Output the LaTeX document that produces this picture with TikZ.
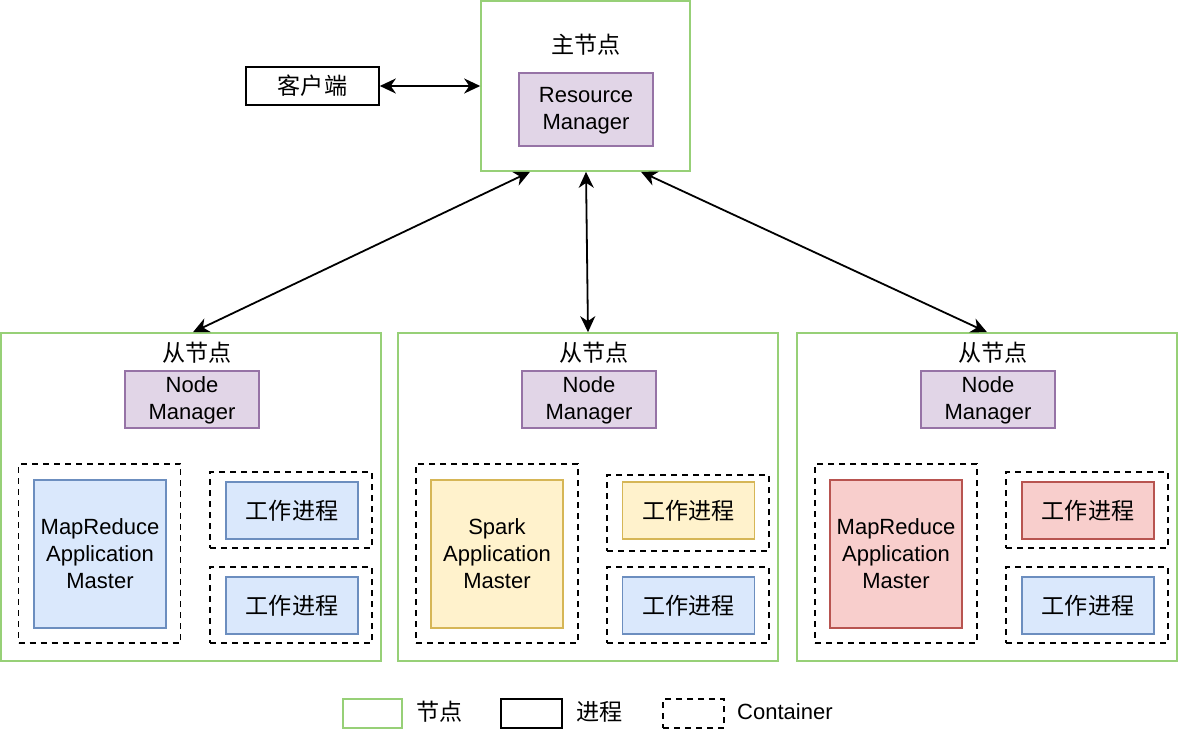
\documentclass[tikz,border=0pt]{standalone}
\usepackage{fontspec}
\setmainfont{Liberation Sans}
\newfontfamily\cjk[Scale=1.05]{Noto Sans CJK SC}
\usetikzlibrary{arrows.meta}
\definecolor{hostgreen}{HTML}{97D077}
\definecolor{purpleL}{HTML}{E1D5E7}
\definecolor{purpleD}{HTML}{9673A6}
\definecolor{blueL}{HTML}{DAE8FC}
\definecolor{blueD}{HTML}{6C8EBF}
\definecolor{yellowL}{HTML}{FFF2CC}
\definecolor{yellowD}{HTML}{D6B656}
\definecolor{redL}{HTML}{F8CECC}
\definecolor{redD}{HTML}{B85450}
\tikzset{
  base/.style={rectangle, inner sep=0pt, align=center, font=\fontsize{22}{27}\selectfont, line width=1.6pt},
  host/.style={base, draw=hostgreen},
  mgr/.style={base, draw=purpleD, fill=purpleL},
  proc/.style={base, draw=black},
  bluebox/.style={base, draw=blueD, fill=blueL},
  yellowbox/.style={base, draw=yellowD, fill=yellowL},
  redbox/.style={base, draw=redD, fill=redL},
  cont/.style={base, draw=black, dash pattern=on 6pt off 5pt},
  lbl/.style={inner sep=0pt, font=\fontsize{22}{27}\selectfont},
  link/.style={line width=1.8pt, {Stealth[length=16pt,width=15pt,inset=5pt]}-{Stealth[length=16pt,width=15pt,inset=5pt]}},
  sz/.style 2 args={minimum width=#1pt, minimum height=#2pt},
}
\begin{document}
\begin{tikzpicture}[x=1pt,y=-1pt]
\useasboundingbox (0,0) rectangle (1178,743);
% master
\node[host, sz={209}{170}] (m) at (585.5,86) {};
\node[lbl] (mlbl) at (586,45) {\cjk 主节点};
\node[mgr, sz={134}{73}] (rm) at (586,109.5) {\rule{0pt}{18pt}Resource\\Manager};
\node[proc, sz={133}{38}] (cl) at (312.5,86) {\cjk 客户端};
% slaves
\node[host, sz={380}{328}] (s1) at (191,497) {};
\node[host, sz={380}{328}] (s2) at (588,497) {};
\node[host, sz={380}{328}] (s3) at (987,497) {};
\node[lbl] (s1lbl) at (197,353) {\cjk 从节点};
\node[lbl] (s2lbl) at (594,353) {\cjk 从节点};
\node[lbl] (s3lbl) at (993,353) {\cjk 从节点};
\node[mgr, sz={134}{57}] (nm1) at (192,399.5) {\rule{0pt}{18pt}Node\\Manager};
\node[mgr, sz={134}{57}] (nm2) at (589,399.5) {\rule{0pt}{18pt}Node\\Manager};
\node[mgr, sz={134}{57}] (nm3) at (988,399.5) {\rule{0pt}{18pt}Node\\Manager};
% containers slave 1
\node[cont, sz={162}{179}] (c1a) at (99.5,553.5) {};
\node[bluebox, sz={132}{148}] (am1) at (100,554) {MapReduce\\Application\\Master};
\node[cont, sz={162}{76}] (c1b) at (291,510) {};
\node[bluebox, sz={132}{57}] (w1a) at (292,510.5) {\cjk 工作进程};
\node[cont, sz={162}{76}] (c1c) at (291,605) {};
\node[bluebox, sz={132}{57}] (w1b) at (292,605.5) {\cjk 工作进程};
% containers slave 2
\node[cont, sz={162}{179}] (c2a) at (497,553.5) {};
\node[yellowbox, sz={132}{148}] (am2) at (497,554) {Spark\\Application\\Master};
\node[cont, sz={162}{76}] (c2b) at (688,513) {};
\node[yellowbox, sz={132}{57}] (w2a) at (688.5,510.5) {\cjk 工作进程};
\node[cont, sz={162}{76}] (c2c) at (688,605) {};
\node[bluebox, sz={132}{57}] (w2b) at (688.5,605.5) {\cjk 工作进程};
% containers slave 3
\node[cont, sz={162}{179}] (c3a) at (896,553.5) {};
\node[redbox, sz={132}{148}] (am3) at (896,554) {MapReduce\\Application\\Master};
\node[cont, sz={162}{76}] (c3b) at (1087,510) {};
\node[redbox, sz={132}{57}] (w3a) at (1088,510.5) {\cjk 工作进程};
\node[cont, sz={162}{76}] (c3c) at (1087,605) {};
\node[bluebox, sz={132}{57}] (w3b) at (1088,605.5) {\cjk 工作进程};
% connectors
\draw[link] (cl.east) -- (m.west);
\draw[link] ([xshift=-55.5pt]m.south) -- ([xshift=2pt]s1.north);
\draw[link] ([xshift=0.5pt]m.south) -- (s2.north);
\draw[link] ([xshift=55.5pt]m.south) -- (s3.north);
% legend
\node[host, sz={59}{29}] (lg1) at (372.5,713.5) {};
\node[lbl, anchor=west] (lt1) at (416,712) {\cjk 节点};
\node[proc, sz={61}{29}] (lg2) at (531.5,713.5) {};
\node[lbl, anchor=west] (lt2) at (576,712) {\cjk 进程};
\node[cont, sz={61}{29}] (lg3) at (693.5,713.5) {};
\node[lbl, anchor=west] (lt3) at (737,712) {Container};
\end{tikzpicture}
\end{document}
